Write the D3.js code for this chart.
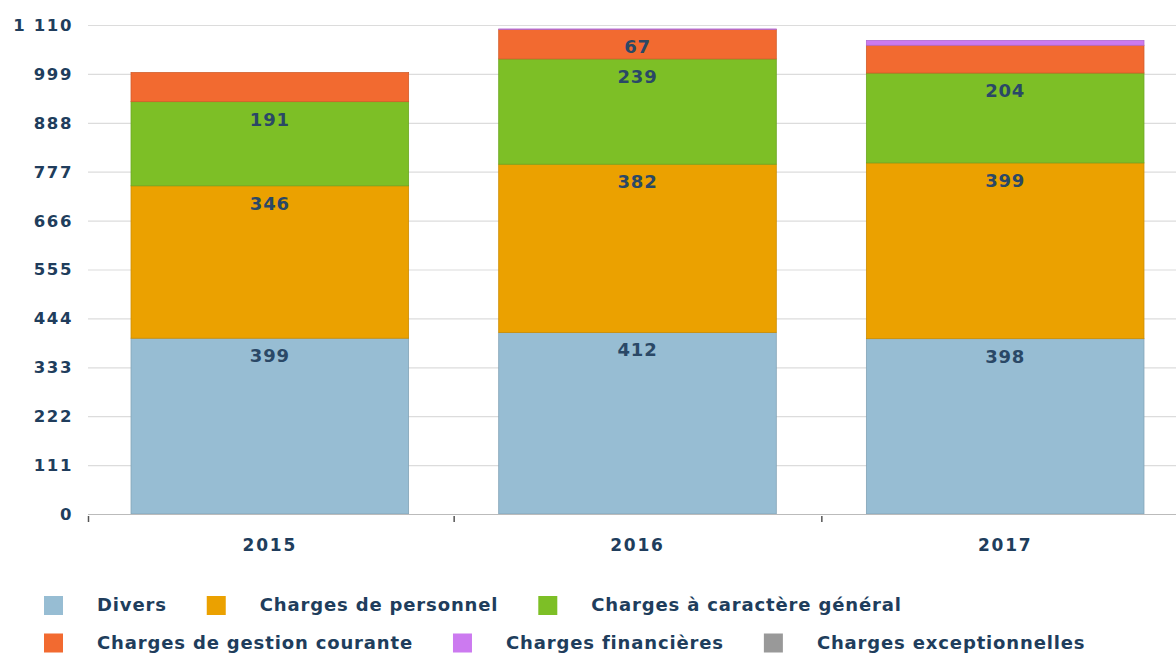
<!DOCTYPE html>
<html><head><meta charset="utf-8">
<script src="https://cdn.jsdelivr.net/npm/d3@7/dist/d3.min.js"></script>
<style>
body{margin:0;background:#fff;}
svg{display:block;font-family:"DejaVu Sans",sans-serif;}
</style></head>
<body><div id="chart"></div>
<script>
const years = ["2015","2016","2017"];
const seriesNames = ["Divers","Charges de personnel","Charges à caractère général","Charges de gestion courante","Charges financières","Charges exceptionnelles"];
const seriesColors = ["#97bdd3","#eba100","#7dbf26","#f26a30","#cc7af0","#999999"];
const divers = [399,412,398];
const personnel = [346,382,399];
const general = [191,239,204];
const gestion = [66,67,63];
const financieres = [0,1,11];
const exceptionnelles = [0,0,0];
const yTicks = [0,111,222,333,444,555,666,777,888,999,1110];
const labelMin = 67;

const W=1176,H=655;
const margin={left:88,right:-11,top:25,bottom:141};
const svg=d3.select("#chart").append("svg").attr("width",W).attr("height",H);
const x=d3.scaleBand().domain(years).range([margin.left,W-margin.right]).paddingInner(0.245).paddingOuter(0.117);
const y=d3.scaleLinear().domain([0,1110]).range([H-margin.bottom,margin.top]);

const txtColor="#203d5c";
const fmt=v=>d3.format(",")(v).replace(/,/g," ");

// grid
svg.append("g").selectAll("line").data(yTicks).join("line")
  .attr("x1",margin.left).attr("x2",W).attr("y1",d=>y(d)+0.5).attr("y2",d=>y(d)+0.5)
  .attr("stroke","#dcdcdc").attr("stroke-width",1.2);

// y labels
svg.append("g").selectAll("text").data(yTicks).join("text")
  .attr("x",73).attr("y",d=>y(d)).attr("dy","0.36em").attr("text-anchor","end")
  .attr("font-size",16.5).attr("font-weight","bold").attr("letter-spacing",1.6).attr("fill",txtColor)
  .text(fmt);

const series=[divers,personnel,general,gestion,financieres,exceptionnelles];
const rows=years.map((yr,i)=>{const o={year:yr};seriesNames.forEach((s,j)=>o[s]=series[j][i]);return o;});
const stacked=d3.stack().keys(seriesNames)(rows);

const g=svg.append("g");
stacked.forEach((layer,j)=>{
  g.selectAll(null).data(layer.filter(d=>d[1]-d[0]>0)).join("rect")
    .attr("x",d=>x(d.data.year)).attr("width",x.bandwidth())
    .attr("y",d=>y(d[1])).attr("height",d=>y(d[0])-y(d[1]))
    .attr("fill",seriesColors[j]).attr("stroke",d3.color(seriesColors[j]).darker(0.4)).attr("stroke-width",0.8);
});
stacked.forEach((layer,j)=>{
  g.selectAll(null).data(layer.filter(d=>d[1]-d[0]>=labelMin)).join("text")
    .attr("x",d=>x(d.data.year)+x.bandwidth()/2).attr("y",d=>y(d[1])+24)
    .attr("text-anchor","middle").attr("font-size",18).attr("font-weight","bold").attr("letter-spacing",0.8).attr("fill","#2a4866")
    .text(d=>d[1]-d[0]);
});

// x axis
const base=y(0);
svg.append("line").attr("x1",margin.left).attr("x2",W).attr("y1",base+0.5).attr("y2",base+0.5).attr("stroke","#bbbbbb").attr("stroke-width",1.2);
const bounds=years.map((d,i)=>i===0?margin.left:x(d)-x.step()*x.paddingInner()/2);
svg.append("g").selectAll("line").data(bounds).join("line")
  .attr("x1",d=>d+0.5).attr("x2",d=>d+0.5).attr("y1",base+2).attr("y2",base+8)
  .attr("stroke","#555").attr("stroke-width",1.5);
svg.append("g").selectAll("text").data(years).join("text")
  .attr("x",d=>x(d)+x.bandwidth()/2).attr("y",base+37).attr("text-anchor","middle")
  .attr("font-size",17).attr("font-weight","bold").attr("letter-spacing",1.8).attr("fill",txtColor).text(d=>d);

// legend
const legendRows=[[0,1,2],[3,4,5]];
const lg=svg.append("g");
legendRows.forEach((r,ri)=>{
  let cx=44;
  const yy=605+ri*37.5;
  r.forEach(k=>{
    lg.append("rect").attr("x",cx).attr("y",yy-9).attr("width",19).attr("height",19).attr("fill",seriesColors[k]);
    const t=lg.append("text").attr("x",cx+53).attr("y",yy).attr("dy","0.36em")
      .attr("font-size",18).attr("font-weight","bold").attr("letter-spacing",0.85).attr("fill",txtColor).text(seriesNames[k]);
    cx=cx+53+t.node().getComputedTextLength()+40;
  });
});
</script></body></html>
